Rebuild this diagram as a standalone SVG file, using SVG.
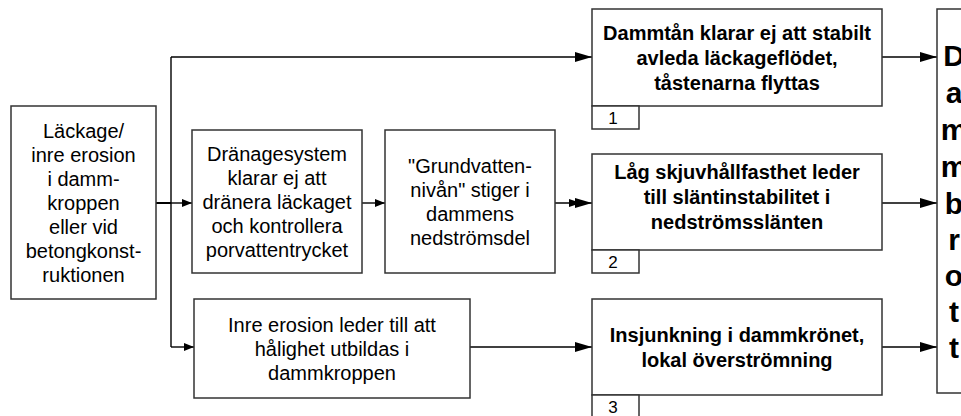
<svg xmlns="http://www.w3.org/2000/svg" width="961" height="416" viewBox="0 0 961 416">
  <style>
    .box { fill: #ffffff; stroke: #333333; stroke-width: 1.5; }
    .t { font-family: "Liberation Sans", Arial, sans-serif; font-size: 20px; fill: #000000; text-anchor: middle; }
    .b { font-weight: bold; }
    .n { font-family: "Liberation Sans", Arial, sans-serif; font-size: 17px; fill: #000000; text-anchor: middle; }
    .big { font-family: "Liberation Sans", Arial, sans-serif; font-size: 30px; font-weight: bold; fill: #000000; text-anchor: middle; }
    .wire { fill: none; stroke: #000000; stroke-width: 1.4; }
  </style>
  <defs>
    <marker id="arrBig" viewBox="0 0 17 10" refX="17" refY="5" markerWidth="17" markerHeight="10" markerUnits="userSpaceOnUse" orient="auto">
      <path d="M0,0 L17,5 L0,10 Z" fill="#000000"/>
    </marker>
    <marker id="arrSmall" viewBox="0 0 10 8" refX="10" refY="4" markerWidth="10" markerHeight="8" markerUnits="userSpaceOnUse" orient="auto">
      <path d="M0,0 L10,4 L0,8 Z" fill="#000000"/>
    </marker>
  </defs>

  <rect width="961" height="416" fill="#ffffff"/>

  <!-- connectors -->
  <g id="connectors">
    <line x1="156" y1="203" x2="171" y2="203" stroke="#000" stroke-width="2"/>
    <line class="wire" x1="171" y1="57" x2="171" y2="347"/>
    <line class="wire" x1="171" y1="203" x2="192" y2="203" marker-end="url(#arrSmall)"/>
    <line class="wire" x1="171" y1="57" x2="592" y2="57" marker-end="url(#arrBig)"/>
    <line class="wire" x1="171" y1="347" x2="194" y2="347" marker-end="url(#arrSmall)"/>
    <line class="wire" x1="362" y1="203" x2="385" y2="203" marker-end="url(#arrSmall)"/>
    <line class="wire" x1="555" y1="203" x2="592" y2="203" marker-end="url(#arrBig)"/>
    <!-- second head on the groundwater link -->
    <path d="M569,199 L581,203 L569,207 Z" fill="#000000"/>
    <line class="wire" x1="470" y1="347" x2="592" y2="347" marker-end="url(#arrBig)"/>
    <line class="wire" x1="882" y1="57" x2="937" y2="57" marker-end="url(#arrBig)"/>
    <line class="wire" x1="882" y1="203" x2="937" y2="203" marker-end="url(#arrBig)"/>
    <line class="wire" x1="882" y1="347" x2="937" y2="347" marker-end="url(#arrBig)"/>
  </g>

  <!-- source: leakage / internal erosion -->
  <g id="leakage">
    <rect class="box" x="11" y="106" width="145" height="193"/>
    <text class="t" x="83.5" y="137.5">Läckage/</text>
    <text class="t" x="83.5" y="161.5">inre erosion</text>
    <text class="t" x="83.5" y="185.5">i damm-</text>
    <text class="t" x="83.5" y="209.5">kroppen</text>
    <text class="t" x="83.5" y="233.5">eller vid</text>
    <text class="t" x="83.5" y="257.5">betongkonst-</text>
    <text class="t" x="83.5" y="281.5">ruktionen</text>
  </g>

  <g id="drainage">
    <rect class="box" x="192" y="130" width="170" height="143"/>
    <text class="t" x="277" y="160.5">Dränagesystem</text>
    <text class="t" x="277" y="184.5">klarar ej att</text>
    <text class="t" x="277" y="208.5">dränera läckaget</text>
    <text class="t" x="277" y="232.5">och kontrollera</text>
    <text class="t" x="277" y="256.5">porvattentrycket</text>
  </g>

  <g id="groundwater">
    <rect class="box" x="385" y="130" width="170" height="143"/>
    <text class="t" x="470" y="172.5">"Grundvatten-</text>
    <text class="t" x="470" y="196.5">nivån" stiger i</text>
    <text class="t" x="470" y="220.5">dammens</text>
    <text class="t" x="470" y="244.5">nedströmsdel</text>
  </g>

  <g id="cavity">
    <rect class="box" x="194" y="299" width="276" height="99"/>
    <text class="t" x="332" y="331.5">Inre erosion leder till att</text>
    <text class="t" x="332" y="355.5">hålighet utbildas i</text>
    <text class="t" x="332" y="379.5">dammkroppen</text>
  </g>

  <g id="mode1">
    <rect class="box" x="592" y="9" width="290" height="97"/>
    <text class="t b" x="737" y="39.5">Dammtån klarar ej att stabilt</text>
    <text class="t b" x="737" y="64.5">avleda läckageflödet,</text>
    <text class="t b" x="737" y="89.5">tåstenarna flyttas</text>
    <rect class="box" x="592" y="106" width="47" height="23"/>
    <text class="n" x="613" y="124">1</text>
  </g>

  <g id="mode2">
    <rect class="box" x="592" y="154" width="290" height="96"/>
    <text class="t b" x="737" y="179">Låg skjuvhållfasthet leder</text>
    <text class="t b" x="737" y="204">till släntinstabilitet i</text>
    <text class="t b" x="737" y="229">nedströmsslänten</text>
    <rect class="box" x="592" y="250" width="47" height="23"/>
    <text class="n" x="613" y="268">2</text>
  </g>

  <g id="mode3">
    <rect class="box" x="592" y="299" width="290" height="96"/>
    <text class="t b" x="737" y="341.5">Insjunkning i dammkrönet,</text>
    <text class="t b" x="737" y="366.5">lokal överströmning</text>
    <rect class="box" x="592" y="395" width="47" height="23"/>
    <text class="n" x="613" y="413">3</text>
  </g>

  <!-- narrow outcome box; its word wraps one letter per line -->
  <g id="failure">
    <rect class="box" x="937" y="9" width="40" height="384"/>
    <text class="big" x="954" y="66">D</text>
    <text class="big" x="954" y="103">a</text>
    <text class="big" x="954" y="140">m</text>
    <text class="big" x="954" y="177">m</text>
    <text class="big" x="954" y="214">b</text>
    <text class="big" x="954" y="250">r</text>
    <text class="big" x="954" y="286">o</text>
    <text class="big" x="954" y="322">t</text>
    <text class="big" x="954" y="358">t</text>
  </g>
</svg>
